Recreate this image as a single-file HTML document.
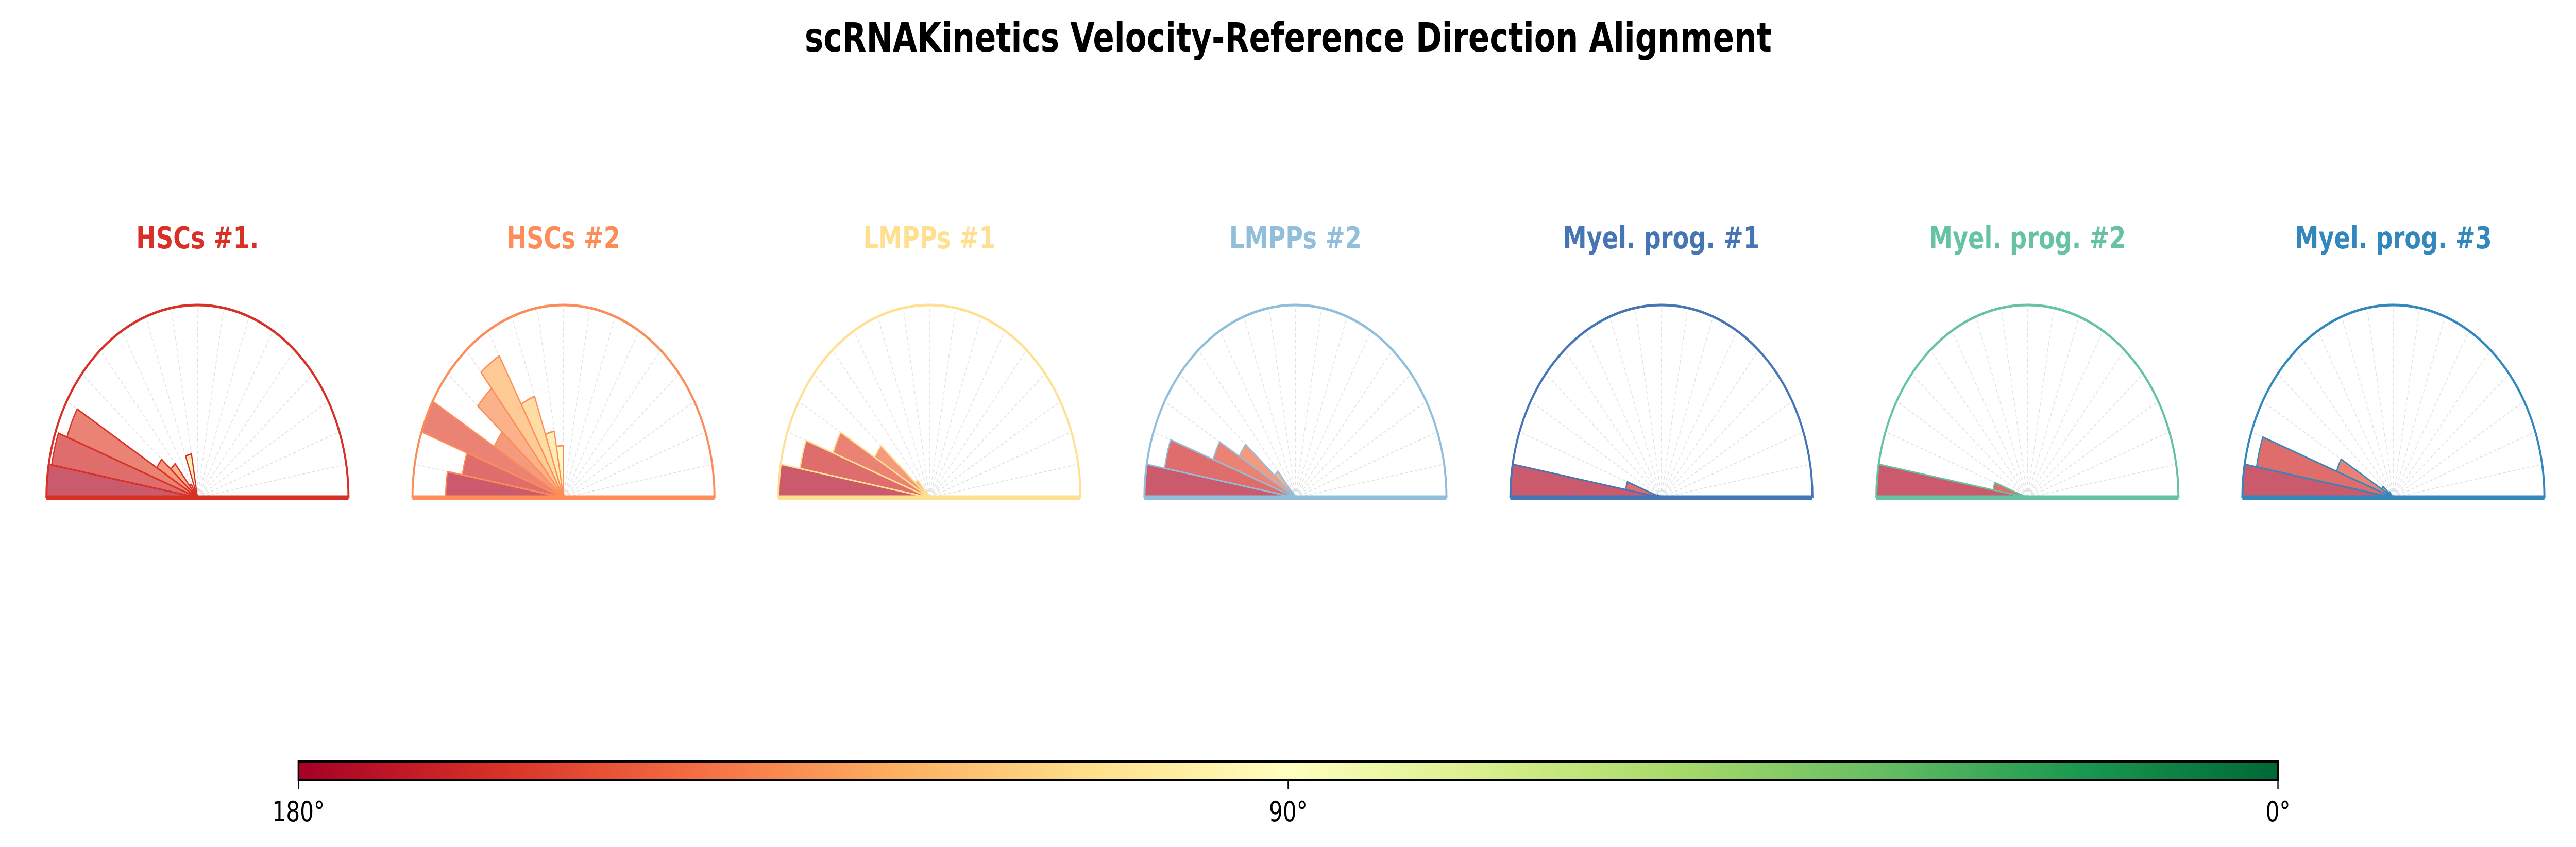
<!DOCTYPE html>
<html><head><meta charset="utf-8"><style>
html,body{margin:0;padding:0;background:#fff;overflow:hidden;width:100%;height:100%;}
svg{display:block;width:100vw;height:100vh;font-family:"DejaVu Sans","Liberation Sans",sans-serif;}
</style></head><body>
<svg id="chart" viewBox="0 0 6379 1644" preserveAspectRatio="none" xmlns="http://www.w3.org/2000/svg">
<defs>
<linearGradient id="rdylgn" x1="0" x2="1" y1="0" y2="0">
<stop offset="0" stop-color="#a50026"/><stop offset="0.1" stop-color="#d73027"/><stop offset="0.2" stop-color="#f46d43"/><stop offset="0.3" stop-color="#fdae61"/><stop offset="0.4" stop-color="#fee08b"/><stop offset="0.5" stop-color="#ffffbf"/><stop offset="0.6" stop-color="#d9ef8b"/><stop offset="0.7" stop-color="#a6d96a"/><stop offset="0.8" stop-color="#66bd63"/><stop offset="0.9" stop-color="#1a9850"/><stop offset="1" stop-color="#006837"/>
</linearGradient>
</defs>
<text x="3190" y="100" text-anchor="middle" font-size="78" font-weight="bold" fill="#000">scRNAKinetics Velocity-Reference Direction Alignment</text>
<g id="panels"></g>
<g>
<rect x="739" y="1478" width="4902" height="36" fill="url(#rdylgn)" stroke="#000" stroke-width="4"/>
</g>
<g id="cbticks"></g>
</svg>
<script>
const panelTitles = ["HSCs #1.","HSCs #2","LMPPs #1","LMPPs #2","Myel. prog. #1","Myel. prog. #2","Myel. prog. #3"];
const panelColors = ["#d73027","#fc8d59","#fee090","#91bfdb","#4575b4","#66c2a5","#3288bd"];
// bin edges in degrees (10° bins); values = normalized counts, bins 0-10 ... 170-180
const binEdges = [0,10,20,30,40,50,60,70,80,90,100,110,120,130,140,150,160,170,180];
const hsc1 = [0,0,0,0,0,0,0,0,0,0.01,0.23,0.03,0.08,0.23,0.31,0.92,0.98,1.0];
const hsc2 = [0,0,0,0,0,0,0,0,0.02,0.27,0.35,0.56,0.85,0.74,0.53,1.0,0.68,0.78];
const lmpp1 = [0,0,0,0,0,0,0,0,0,0,0,0,0.03,0.12,0.42,0.68,0.87,1.0];
const lmpp2 = [0,0,0,0,0,0,0,0,0,0,0,0,0.03,0.18,0.43,0.58,0.88,1.0];
const myel1 = [0,0,0,0,0,0,0,0,0,0,0,0,0,0,0.02,0.03,0.24,1.0];
const myel2 = [0,0,0,0,0,0,0,0,0,0,0,0,0,0,0,0.02,0.23,1.0];
const myel3 = [0,0,0,0,0,0,0,0,0,0,0,0,0,0.04,0.09,0.40,0.92,1.0];
const seriesValues = [hsc1,hsc2,lmpp1,lmpp2,myel1,myel2,myel3];
const cbTickLabels = ["180°","90°","0°"];
const cbTickValues = [180,90,0];

const NS = "http://www.w3.org/2000/svg";
const stops = [[165,0,38],[215,48,39],[244,109,67],[253,174,97],[254,224,139],[255,255,191],[217,239,139],[166,217,106],[102,189,99],[26,152,80],[0,104,55]];
function cmap(t){ t=Math.max(0,Math.min(1,t)); const f=t*10; const i=Math.min(9,Math.floor(f)); const u=f-i;
  const a=stops[i], b=stops[i+1]; return "rgb("+a.map((v,k)=>Math.round(v+(b[k]-v)*u)).join(",")+")"; }
const cx0 = 489, dxPanel = 906.3, cy = 966, R = 374;
const xPanel = i => cx0 + i*dxPanel;
const rScale = v => v*R;
const ang = d => d*Math.PI/180;
function pt(cx, r, d){ return [cx + r*Math.cos(ang(d)), cy - r*Math.sin(ang(d))]; }
const panels = document.getElementById("panels");
function mk(tag, attrs, parent){ const e=document.createElementNS(NS,tag); for(const k in attrs) e.setAttribute(k,attrs[k]); parent.appendChild(e); return e; }

panelTitles.forEach((title,i)=>{
  const cx = xPanel(i), col = panelColors[i];
  const g = mk("g",{},panels);
  
  
  const t = mk("text",{x:cx,y:482,"text-anchor":"middle","font-size":"59","font-weight":"bold",fill:col},g);
  t.textContent = title;
  
  
  for(let d=10; d<180; d+=10){
    const p = pt(cx,R,d);
    const l = mk("line",{x1:cx,y1:cy,x2:p[0],y2:p[1],stroke:"#e2e2e2","stroke-width":"2","stroke-dasharray":"7,5"},g);
    
    
  }
  const vals = seriesValues[i];
  vals.forEach((v,b)=>{
    if(v<=0) return;
    const a0 = binEdges[b], a1 = binEdges[b+1], r = rScale(v);
    const p0 = pt(cx,r,a0), p1 = pt(cx,r,a1);
    const mid = (a0+a1)/2;
    const path = mk("path",{d:`M${cx},${cy} L${p0[0]},${p0[1]} A${r},${r} 0 0 0 ${p1[0]},${p1[1]} Z`,
      fill:cmap(1-mid/180),"fill-opacity":"0.68",stroke:col,"stroke-width":"3","stroke-linejoin":"round"},g);
    
    
  });
  const arc = mk("path",{d:`M${cx-R},${cy} A${R},${R} 0 0 1 ${cx+R},${cy}`,fill:"none",stroke:col,"stroke-width":"5"},g);
  
  
  const base = mk("line",{x1:cx-R,y1:cy,x2:cx+R,y2:cy,stroke:col,"stroke-width":"9"},g);
  
  
});

const cbX = v => 739 + (180-v)/180*4902;
const tk = document.getElementById("cbticks");
cbTickValues.forEach((v,i)=>{
  const x = cbX(v);
  const l = mk("line",{x1:x,y1:1514,x2:x,y2:1531,stroke:"#000","stroke-width":"3"},tk);
  
  
  const t = mk("text",{x:x,y:1594,"text-anchor":"middle","font-size":"54",fill:"#000"},tk);
  t.textContent = cbTickLabels[i];
  
  
});
</script>
</body></html>
